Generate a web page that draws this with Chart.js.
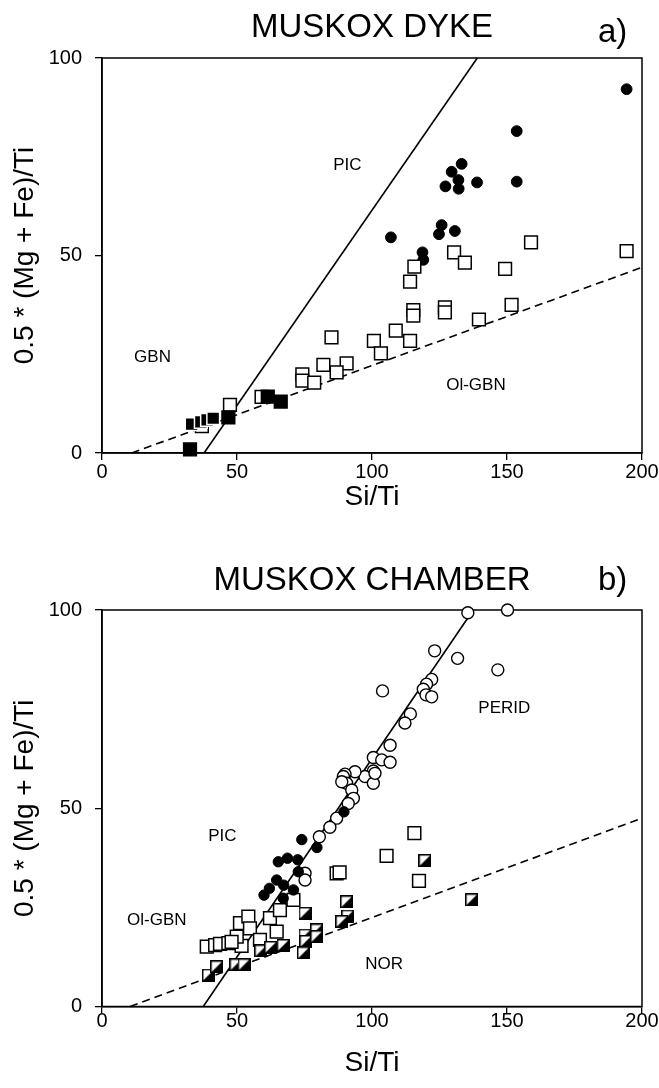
<!DOCTYPE html>
<html lang="en">
<head>
<meta charset="UTF-8" />
<title>Muskox Si/Ti diagrams</title>
<script src="https://cdn.jsdelivr.net/npm/chart.js"></script>
<style>
  body { margin: 0; background: #fff; }
  .panel { position: absolute; left: 0; }
  #panelA { top: 0; }
  #panelB { top: 540px; }
</style>
</head>
<body>
<div class="panel" id="panelA"><canvas id="dykeChart" width="659" height="540"></canvas></div>
<div class="panel" id="panelB"><canvas id="chamberChart" width="659" height="548"></canvas></div>

<script>
  // ---- a) Muskox dyke: [Si/Ti, 0.5*(Mg+Fe)/Ti]
  const dykeFilledCircles = [
    [194.3, 92.1], [153.6, 81.5], [153.6, 68.7], [133.2, 73.2], [129.5, 71.2],
    [132, 69.1], [127.2, 67.5], [132.1, 66.9], [138.9, 68.5], [125.8, 57.7],
    [124.8, 55.4], [130.7, 56.2], [107, 54.6], [118.7, 50.8], [119, 48.9]
  ];
  const dykeOpenSquares = [
    [194.3, 51.1], [158.9, 53.3], [130.4, 50.8], [134.4, 48.2], [115.7, 47.2],
    [114.1, 43.4], [149.3, 46.6], [115.3, 36.2], [115.3, 34.8], [127, 36.9],
    [127, 35.6], [151.7, 37.5], [139.6, 33.8], [108.8, 31], [100.7, 28.4],
    [114.1, 28.4], [103.3, 25.2], [85, 29.3], [82, 22.3], [90.6, 22.7],
    [86.9, 20.4], [74.2, 19.9], [74.2, 18.3], [78.6, 17.8], [47.4, 12.2],
    [59.1, 14.2], [37, 6.8]
  ];
  const dykeFilledSquares = [[32.6, 0.9], [46.8, 9], [61.4, 14.3], [66.2, 13]];
  const dykeFilledCluster = [[33.2, 7.3], [36.6, 7.9], [38.9, 8.4], [41.2, 8.8]];
  const dykeSolidLine = [[37.8, 0], [139, 100]];
  const dykeDashedLine = [[11, 0], [200, 47]];
  const dykeLabels = [['PIC', 90.9, 72.9], ['GBN', 18.7, 24.2], ['Ol-GBN', 138.5, 17.2]];

  // ---- b) Muskox chamber
  const chamberOpenCircles = [
    [135.5, 99.3], [150.2, 100], [123.2, 89.7], [131.7, 87.8], [146.6, 84.9],
    [103.9, 79.6], [122.1, 82.5], [120.2, 81.3], [119, 80], [120, 78.6],
    [122.1, 78.1], [114.2, 73.8], [112.2, 71.5], [106.7, 65.9], [100.5, 62.8],
    [103.6, 62.2], [106.7, 61.6], [100.5, 59.4], [97.4, 58], [100.5, 56.3],
    [101.1, 58.8], [93.7, 59.2], [90, 58.6], [89.4, 58], [90.6, 56.3],
    [88.8, 56.7], [92.5, 54.6], [93.1, 52.5], [91.2, 51.2], [86.9, 47.5],
    [84.4, 45.2], [80.5, 42.8], [75.2, 33.6], [75.2, 31.9]
  ];
  const chamberFilledCircles = [
    [74, 42.1], [79.6, 40.1], [65.3, 36.5], [68.7, 37.4], [72.5, 37],
    [89.6, 49.1], [64.7, 31.9], [67.3, 30.6], [62, 29.8], [60, 28.1],
    [70.9, 29.4], [67.1, 27.3], [72.7, 34]
  ];
  const chamberOpenSquares = [
    [86.9, 33.6], [88, 33.8], [38.8, 15.1], [41.9, 15.5], [43.7, 15.8],
    [46.8, 16], [51.7, 15.3], [51.1, 21], [54.2, 22.7], [54.8, 19.7],
    [49.9, 17.6], [62.2, 22.3], [64.7, 18.9], [65.9, 24.3], [70.9, 26.9],
    [48, 16.3], [58.5, 16.8], [115.7, 43.7], [105.4, 38], [117.4, 31.7]
  ];
  const chamberHalfSquares = [
    [39.4, 7.9], [42.5, 10], [49.6, 10.5], [52.6, 10.5], [58.8, 14],
    [62.5, 14.9], [67.1, 15.4], [75.2, 23.5], [75.2, 18], [75.5, 16.4],
    [74.6, 13.5], [79.5, 19.3], [79.5, 17.6], [90.6, 26.4], [91, 22.8],
    [88.8, 21.4], [119.6, 36.8], [136.9, 26.9]
  ];
  const chamberSolidLine = [[37.5, 0], [137.5, 100]];
  const chamberDashedLine = [[10.4, 0], [200, 47.5]];
  const chamberLabels = [['PERID', 149, 75.2], ['PIC', 44.6, 42.8], ['Ol-GBN', 20.3, 21.8], ['NOR', 104.5, 10.7]];

  const xTicks = [0, 50, 100, 150, 200];
  const yTicks = [0, 50, 100];

  const FONT = "'Liberation Sans', Arial, Helvetica, sans-serif";

  function pts(list) {
    return list.map(([x, y]) => ({ x, y }));
  }

  // square, white upper-left / black lower-right
  function halfSquare(size) {
    const c = document.createElement('canvas');
    c.width = size; c.height = size;
    const g = c.getContext('2d');
    g.fillStyle = '#fff';
    g.fillRect(0, 0, size, size);
    g.fillStyle = '#000';
    g.beginPath();
    g.moveTo(size, 0); g.lineTo(size, size); g.lineTo(0, size);
    g.closePath(); g.fill();
    g.strokeStyle = '#000'; g.lineWidth = 1.5;
    g.strokeRect(0.75, 0.75, size - 1.5, size - 1.5);
    return c;
  }

  const framePlugin = {
    id: 'frame',
    beforeDatasetsDraw(chart, args, opts) {
      const { ctx, chartArea: a, scales: { x, y } } = chart;
      ctx.save();
      ctx.strokeStyle = '#000';
      ctx.lineWidth = 1.5;
      ctx.strokeRect(a.left, a.top, a.width, a.height);
      ctx.fillStyle = '#000';
      ctx.font = '17px ' + FONT;
      ctx.textAlign = 'center';
      ctx.textBaseline = 'middle';
      opts.labels.forEach(([t, lx, ly]) => {
        ctx.fillText(t, x.getPixelForValue(lx), y.getPixelForValue(ly));
      });
      ctx.restore();
    },
    afterDraw(chart, args, opts) {
      const { ctx } = chart;
      ctx.save();
      ctx.fillStyle = '#000';
      ctx.font = '33px ' + FONT;
      ctx.textBaseline = 'alphabetic';
      ctx.textAlign = 'center';
      ctx.fillText(opts.title, 372, opts.titleY);
      ctx.textAlign = 'left';
      ctx.fillText(opts.panel, 598, opts.panelY);
      ctx.restore();
    }
  };

  function makeChart(id, cfg) {
    const lineSet = (data, dashed) => ({
      data: pts(data), showLine: true, pointRadius: 0, borderColor: '#000',
      borderWidth: 1.6, borderDash: dashed ? [8, 5] : [], order: 10, clip: false
    });
    return new Chart(document.getElementById(id), {
      type: 'scatter',
      data: { datasets: [lineSet(cfg.solid, false), lineSet(cfg.dashed, true)].concat(cfg.sets) },
      options: {
        responsive: false,
        devicePixelRatio: 1,
        animation: false,
        events: [],
        layout: { padding: { left: 0, right: 17, top: cfg.top, bottom: 0 } },
        plugins: {
          legend: { display: false },
          tooltip: { enabled: false },
          frame: { labels: cfg.labels, title: cfg.title, titleY: cfg.titleY, panel: cfg.panel, panelY: cfg.panelY }
        },
        scales: {
          x: {
            type: 'linear', min: 0, max: 200,
            afterBuildTicks: s => { s.ticks = xTicks.map(v => ({ value: v })); },
            afterFit: s => { s.height = cfg.xHeight; },
            ticks: { color: '#000', font: { size: 20, family: FONT }, padding: cfg.xPad, maxRotation: 0 },
            grid: { drawOnChartArea: false, tickLength: 7, color: '#000', lineWidth: 1.3 },
            border: { color: '#000', width: 1.5 },
            title: { display: true, text: 'Si/Ti', color: '#000', font: { size: 28, family: FONT }, padding: { top: 0, bottom: cfg.xTitlePad } }
          },
          y: {
            type: 'linear', min: 0, max: 100,
            afterBuildTicks: s => { s.ticks = yTicks.map(v => ({ value: v })); },
            afterFit: s => { s.width = 102; },
            ticks: { color: '#000', font: { size: 20, family: FONT }, padding: 13 },
            grid: { drawOnChartArea: false, tickLength: 7, color: '#000', lineWidth: 1.3 },
            border: { color: '#000', width: 1.5 },
            title: { display: true, text: '0.5 * (Mg + Fe)/Ti', color: '#000', font: { size: 28, family: FONT }, padding: { top: 8, bottom: 0 } }
          }
        }
      },
      plugins: [framePlugin]
    });
  }

  const filledCircle = (data, r, order) => ({
    data: pts(data), pointStyle: 'circle', pointRadius: r, backgroundColor: '#000',
    borderColor: '#000', borderWidth: 1, order, clip: false
  });
  const openCircle = (data, r, order) => ({
    data: pts(data), pointStyle: 'circle', pointRadius: r, backgroundColor: '#fff',
    borderColor: '#000', borderWidth: 1.4, order, clip: false
  });
  const square = (data, fill, edge, order) => ({
    data: pts(data), pointStyle: 'rect', pointRadius: 9, backgroundColor: fill,
    borderColor: edge, borderWidth: 1.5, order, clip: false
  });

  makeChart('dykeChart', {
    top: 58, xHeight: 87, xPad: 0, xTitlePad: 26,
    title: 'MUSKOX DYKE', titleY: 37, panel: 'a)', panelY: 42,
    solid: dykeSolidLine, dashed: dykeDashedLine, labels: dykeLabels,
    sets: [
      square(dykeFilledSquares, '#000', '#000', 1),
      square(dykeFilledCluster, '#000', '#fff', 2),
      square(dykeOpenSquares, '#fff', '#000', 3),
      filledCircle(dykeFilledCircles, 5.4, 4)
    ]
  });

  const halfIcon = halfSquare(13);
  makeChart('chamberChart', {
    top: 70, xHeight: 81.5, xPad: -4, xTitlePad: 8,
    title: 'MUSKOX CHAMBER', titleY: 50, panel: 'b)', panelY: 50,
    solid: chamberSolidLine, dashed: chamberDashedLine, labels: chamberLabels,
    sets: [
      filledCircle(chamberFilledCircles, 5.2, 1),
      openCircle(chamberOpenCircles, 6, 2),
      { data: pts(chamberHalfSquares), pointStyle: halfIcon, pointRadius: 7, order: 3, clip: false },
      square(chamberOpenSquares, '#fff', '#000', 4)
    ]
  });
</script>
</body>
</html>
